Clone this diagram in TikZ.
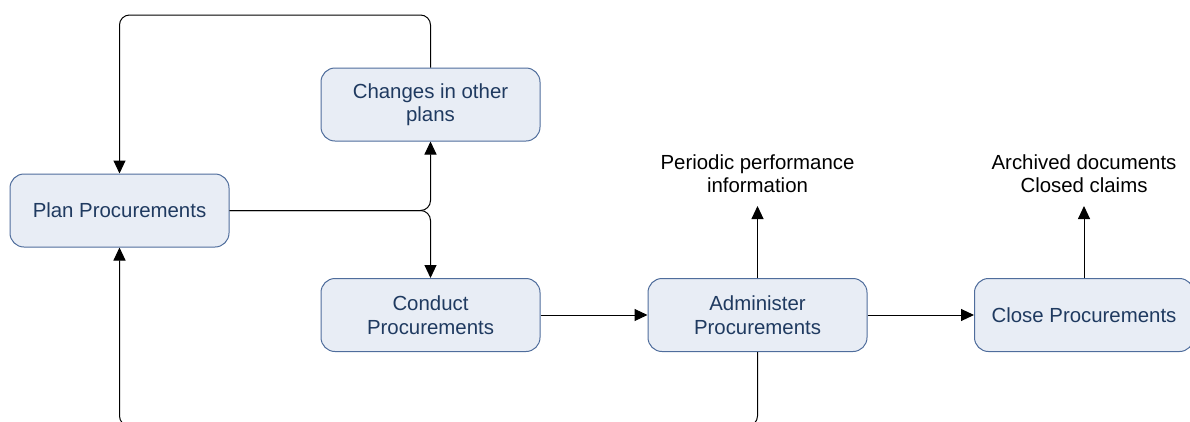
\documentclass[tikz,border=0pt]{standalone}
\usepackage{fontspec}
\setmainfont{Liberation Sans}
\usetikzlibrary{arrows.meta}
\definecolor{boxfill}{HTML}{E8EDF5}
\definecolor{boxdraw}{HTML}{4F6D9C}
\definecolor{boxtext}{HTML}{1F3A60}
\begin{document}
\begin{tikzpicture}[x=1pt,y=-1pt,
  procbox/.style={draw=boxdraw,fill=boxfill,line width=1pt,rounded corners=14pt,
    minimum width=219pt,minimum height=73pt,inner sep=0pt,align=center,
    text=boxtext,font=\fontsize{20.4}{23.5}\selectfont},
  lbl/.style={align=center,inner sep=0pt,font=\fontsize{20.4}{23}\selectfont},
  conn/.style={draw=black,line width=1pt,rounded corners=10pt},
  arr/.style={conn,-{Triangle[length=13pt,width=12pt]}}]
\useasboundingbox (0,0) rectangle (1190,421);
\node[procbox] (plan) at (119.5,210.5) {Plan Procurements};
\node[procbox] (chg) at (430.5,104.5) {Changes in other\\plans};
\node[procbox] (cond) at (430.5,315) {Conduct\\Procurements};
\node[procbox] (adm) at (757.5,315) {Administer\\Procurements};
\node[procbox] (close) at (1084,315) {Close Procurements};
\node[lbl] (perf) at (757.5,174) {Periodic performance\\information};
\node[lbl] (arch) at (1084,174) {Archived documents\\Closed claims};
\coordinate (pa) at (757.5,206);
\coordinate (ca) at (1084,206);
\coordinate (j) at (430.5,210.5);
\coordinate (t1) at (430.5,15);
\coordinate (t2) at (119.5,15);
\coordinate (b1) at (757.5,426);
\coordinate (b2) at (119.5,426);
\draw[arr] (chg.north) -- (t1) -- (t2) -- (plan.north);
\draw[arr] (plan.east) -- (j) -- (chg.south);
\draw[arr] (plan.east) -- (j) -- (cond.north);
\draw[arr] (cond.east) -- (adm.west);
\draw[arr] (adm.east) -- (close.west);
\draw[arr] (adm.north) -- (pa);
\draw[arr] (close.north) -- (ca);
\draw[arr] (adm.south) -- (b1) -- (b2) -- (plan.south);
\end{tikzpicture}
\end{document}
